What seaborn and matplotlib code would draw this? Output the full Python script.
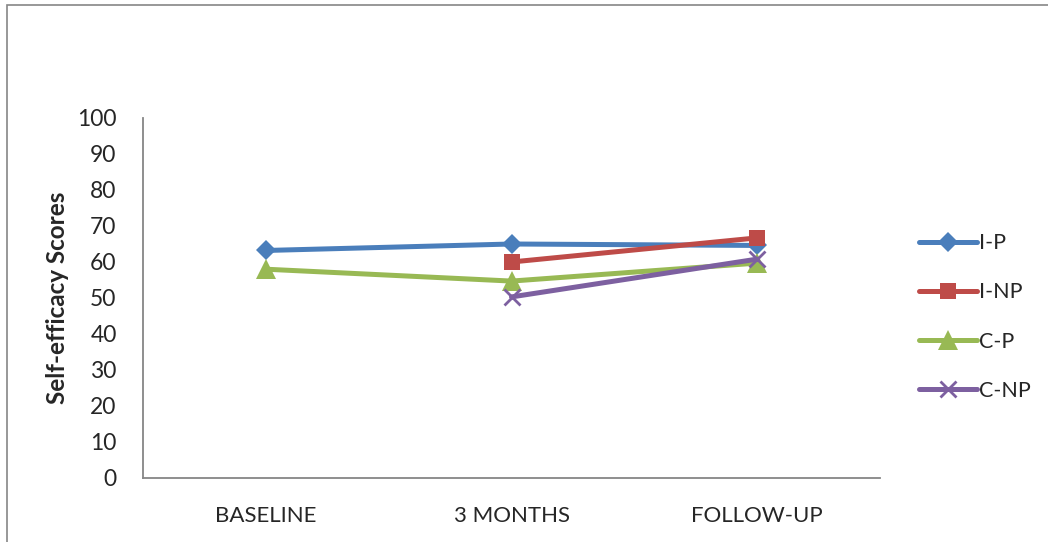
import matplotlib
matplotlib.use("Agg")
import matplotlib.pyplot as plt
import seaborn as sns
import pandas as pd
import numpy as np
from matplotlib.patches import Rectangle

# Time points and group scores
timepoints = ["BASELINE", "3 MONTHS", "FOLLOW-UP"]
groups = ["I-P", "I-NP", "C-P", "C-NP"]
i_p = [63.2, 65.0, 64.6]
i_np = [np.nan, 60.0, 66.7]
c_p = [58.0, 54.7, 59.7]
c_np = [np.nan, 50.3, 60.8]
y_ticks = list(range(0, 101, 10))

colors = {"I-P": "#4A7EBB", "I-NP": "#BE4B48", "C-P": "#98B954", "C-NP": "#7D60A0"}
markers = {"I-P": "D", "I-NP": "s", "C-P": "^", "C-NP": "x"}
msizes = {"I-P": 10, "I-NP": 12, "C-P": 14, "C-NP": 12}

rows = []
for g, vals in zip(groups, [i_p, i_np, c_p, c_np]):
    for i, v in enumerate(vals):
        if not np.isnan(v):
            rows.append({"time": i, "group": g, "score": v})
df = pd.DataFrame(rows)

sns.set_style("white")
plt.rcParams["font.family"] = ["Lato", "DejaVu Sans"]

fig = plt.figure(figsize=(10.48, 5.42), dpi=100)
ax = fig.add_axes([143 / 1048, (542 - 478) / 542, (880 - 143) / 1048, (478 - 118) / 542])

for g in groups:
    sub = df[df["group"] == g]
    sns.lineplot(data=sub, x="time", y="score", ax=ax, color=colors[g],
                 linewidth=3.6, marker=markers[g], markersize=msizes[g],
                 markeredgewidth=2 if g == "C-NP" else 0,
                 markeredgecolor=colors[g], label=g, sort=False)

ax.set_xlim(-0.5, 2.5)
ax.set_ylim(0, 100)
ax.set_yticks(y_ticks)
ax.set_yticklabels([str(t) for t in y_ticks], fontsize=16.5)
ax.set_xticks(range(len(timepoints)))
ax.set_xticklabels(timepoints, fontsize=16, fontstretch="condensed")
ax.tick_params(axis="both", length=0)
ax.tick_params(axis="y", pad=19)
ax.tick_params(axis="x", pad=20)
ax.set_xlabel("")
ax.set_ylabel("Self-efficacy Scores", fontsize=17.5, fontweight="bold", labelpad=6)

for s in ["top", "right"]:
    ax.spines[s].set_visible(False)
for s in ["left", "bottom"]:
    ax.spines[s].set_color("#868686")
    ax.spines[s].set_linewidth(1.3)

leg = ax.legend(loc="center left", frameon=False, borderpad=0, borderaxespad=0,
                fontsize=15.5, handlelength=2.7, handletextpad=0.1, labelspacing=1.35)
leg.set_bbox_to_anchor((919 / 1048, 1 - 317 / 542), transform=fig.transFigure)

# Outer chart frame
fig.patches.append(Rectangle((7 / 1048, -0.05), 1.1, 1 - 5 / 542 + 0.05,
                             transform=fig.transFigure, fill=False,
                             edgecolor="#868686", linewidth=1.2))

fig.savefig("out.png", dpi=100)
